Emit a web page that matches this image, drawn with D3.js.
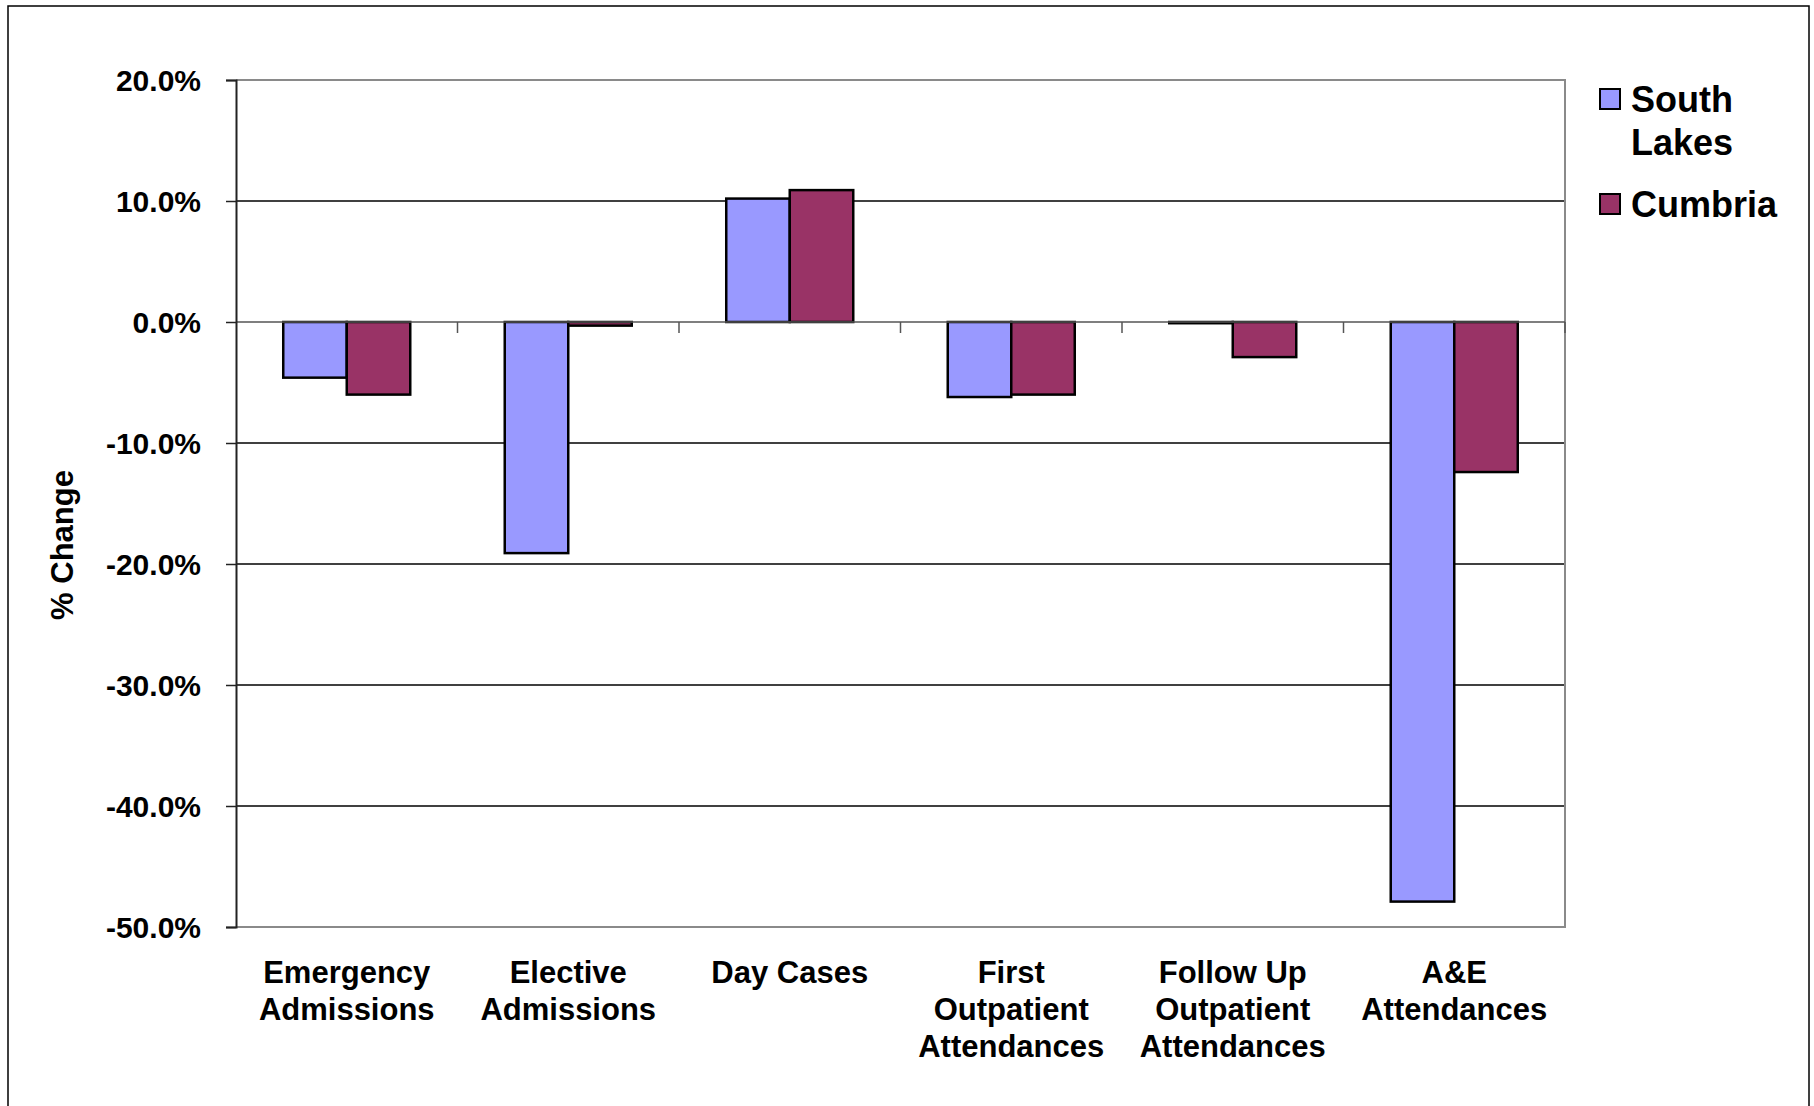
<!DOCTYPE html>
<html>
<head>
<meta charset="utf-8">
<script src="https://cdn.jsdelivr.net/npm/d3@7"></script>
<style>
  html, body { margin: 0; padding: 0; background: #ffffff; }
  svg { display: block; font-family: "Liberation Sans", Arial, sans-serif; font-weight: bold; }
</style>
</head>
<body>
<svg id="chart" width="1814" height="1106"></svg>
<script>
// Percentage change by activity type
const categories = [
  "Emergency Admissions",
  "Elective Admissions",
  "Day Cases",
  "First Outpatient Attendances",
  "Follow Up Outpatient Attendances",
  "A&E Attendances"
];
const categoryLines = [
  ["Emergency", "Admissions"],
  ["Elective", "Admissions"],
  ["Day Cases"],
  ["First", "Outpatient", "Attendances"],
  ["Follow Up", "Outpatient", "Attendances"],
  ["A&E", "Attendances"]
];
const seriesNames = ["South Lakes", "Cumbria"];
const southLakes = [-4.6, -19.1, 10.2, -6.2, -0.1, -47.9];
const cumbria    = [-6.0, -0.3, 10.9, -6.0, -2.9, -12.4];
const yTicks = [20, 10, 0, -10, -20, -30, -40, -50];
const seriesColors = ["#9999ff", "#993366"];

const svg = d3.select("#chart");

// outer chart frame
svg.append("rect")
  .attr("x", 8).attr("y", 6)
  .attr("width", 1801).attr("height", 1112)
  .attr("fill", "#ffffff")
  .attr("stroke", "#000").attr("stroke-width", 1.5);

const plot = { left: 236, top: 80, right: 1565, bottom: 927 };

const y = d3.scaleLinear().domain([-50, 20]).range([plot.bottom, plot.top]);
const x0 = d3.scaleBand().domain(categories).range([plot.left, plot.right]).paddingInner(0).paddingOuter(0);
const x1 = d3.scaleBand().domain(seriesNames).range([0, x0.bandwidth()])
  .paddingInner(0).paddingOuter(0.744);

// horizontal gridlines
svg.append("g").selectAll("line")
  .data(yTicks.filter(t => t !== 20 && t !== -50 && t !== 0))
  .join("line")
  .attr("x1", plot.left).attr("x2", plot.right)
  .attr("y1", d => y(d)).attr("y2", d => y(d))
  .attr("stroke", "#000").attr("stroke-width", 1.3);

// plot area border (top, right, bottom)
svg.append("path")
  .attr("d", `M${plot.left},${y(20)}H${plot.right}V${y(-50)}H${plot.left}`)
  .attr("fill", "none").attr("stroke", "#8a8a8a").attr("stroke-width", 2);

// bars
const data = categories.map((c, i) => ({ cat: c, values: [southLakes[i], cumbria[i]] }));
const groups = svg.append("g").selectAll("g")
  .data(data).join("g")
  .attr("transform", d => `translate(${x0(d.cat)},0)`);
groups.selectAll("rect")
  .data(d => d.values.map((v, j) => ({ name: seriesNames[j], value: v, color: seriesColors[j] })))
  .join("rect")
  .attr("x", d => x1(d.name))
  .attr("width", x1.bandwidth())
  .attr("y", d => Math.min(y(0), y(d.value)))
  .attr("height", d => Math.abs(y(d.value) - y(0)))
  .attr("fill", d => d.color)
  .attr("stroke", "#000").attr("stroke-width", 2.5);

// zero baseline with category tick marks
svg.append("line")
  .attr("x1", plot.left).attr("x2", plot.right)
  .attr("y1", y(0)).attr("y2", y(0))
  .attr("stroke", "#555").attr("stroke-width", 1.5);
svg.append("g").selectAll("line")
  .data(categories.map((c, i) => i + 1))
  .join("line")
  .attr("x1", i => plot.left + i * x0.step())
  .attr("x2", i => plot.left + i * x0.step())
  .attr("y1", y(0)).attr("y2", y(0) + 11)
  .attr("stroke", "#555").attr("stroke-width", 1.5);

// y axis
const yAxis = svg.append("g")
  .attr("transform", `translate(${plot.left},0)`)
  .call(d3.axisLeft(y).tickValues(yTicks).tickSize(10).tickPadding(25)
    .tickFormat(d => d.toFixed(1) + "%"));
yAxis.select(".domain").attr("stroke", "#222").attr("stroke-width", 2);
yAxis.selectAll(".tick line").attr("stroke", "#222").attr("stroke-width", 1.5);
yAxis.selectAll(".tick text")
  .attr("fill", "#000")
  .attr("font-size", 30)
  .attr("font-family", "Liberation Sans, Arial, sans-serif")
  .attr("font-weight", "bold")
  .attr("dy", "0.36em");

// category labels
const xLabels = svg.append("g").selectAll("text")
  .data(categories)
  .join("text")
  .attr("x", d => x0(d) + x0.bandwidth() / 2)
  .attr("y", 983)
  .attr("text-anchor", "middle")
  .attr("font-size", 31)
  .attr("fill", "#000");
xLabels.each(function(d, i) {
  d3.select(this).selectAll("tspan")
    .data(categoryLines[i])
    .join("tspan")
    .attr("x", x0(d) + x0.bandwidth() / 2)
    .attr("dy", (t, k) => k === 0 ? 0 : 37)
    .text(t => t);
});

// y axis title
svg.append("text")
  .attr("transform", "translate(62,545) rotate(-90)")
  .attr("text-anchor", "middle")
  .attr("dominant-baseline", "central")
  .attr("font-size", 31)
  .attr("fill", "#000")
  .text("% Change");

// legend
const legendItems = [
  { color: seriesColors[0], lines: ["South", "Lakes"], y: 112 },
  { color: seriesColors[1], lines: ["Cumbria"], y: 217 }
];
const legend = svg.append("g");
legendItems.forEach(item => {
  legend.append("rect")
    .attr("x", 1600).attr("y", item.y - 23)
    .attr("width", 20).attr("height", 20)
    .attr("fill", item.color)
    .attr("stroke", "#000").attr("stroke-width", 2);
  const t = legend.append("text")
    .attr("x", 1631).attr("y", item.y)
    .attr("font-size", 36).attr("fill", "#000");
  t.selectAll("tspan").data(item.lines).join("tspan")
    .attr("x", 1631)
    .attr("dy", (s, k) => k === 0 ? 0 : 43)
    .text(s => s);
});
</script>
</body>
</html>
